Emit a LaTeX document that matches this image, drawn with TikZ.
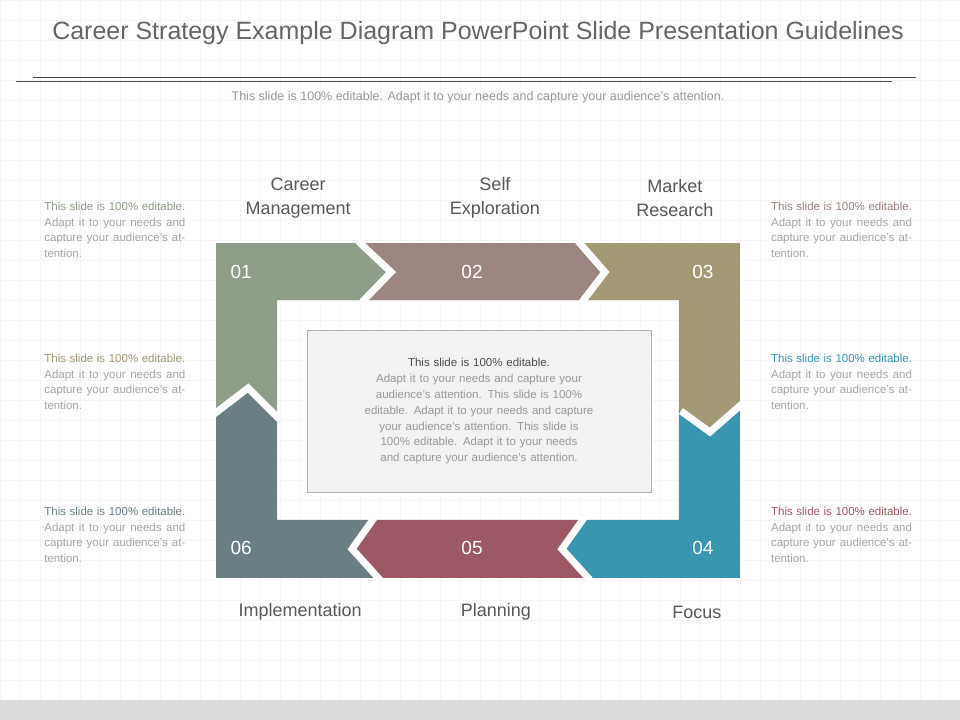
\documentclass[tikz,border=0pt]{standalone}
\usepackage{fontspec}
\setmainfont{Liberation Sans}
\begin{document}
\begin{tikzpicture}[x=1pt,y=-1pt,
  num/.style={text=white,font=\fontsize{19}{19}\selectfont,anchor=center},
  lbl/.style={text=black!65,font=\fontsize{18}{24}\selectfont,align=center},
  side/.style={text=black!35,font=\fontsize{11.5}{15.5}\selectfont,text width=141pt,align=justify,anchor=north west,inner sep=0pt},
  joint/.style={white,line width=7pt,miter limit=20}]
\definecolor{cA}{HTML}{8E9E88}\definecolor{cB}{HTML}{9A8580}\definecolor{cC}{HTML}{A39A75}
\definecolor{cD}{HTML}{3A95B0}\definecolor{cE}{HTML}{9C5865}\definecolor{cF}{HTML}{6A7E84}
\fill[white] (0,0) rectangle (960,720);
\foreach \i in {0,20,...,960} \draw[black!4] (\i,0) -- (\i,700);
\foreach \j in {0,20,...,700} \draw[black!4] (0,\j) -- (960,\j);
\fill[black!14] (0,700) rectangle (960,720);
\node[text=black!60,font=\fontsize{25}{25}\selectfont] (title) at (478,33) {Career Strategy Example Diagram PowerPoint Slide Presentation Guidelines};
\draw[black!70] (33,77) -- (916,77);
\draw[black!70] (16,81) -- (892,81);
\node[text=black!40,font=\fontsize{12.5}{12.5}\selectfont] (sub) at (478,97) {This slide is 100\% editable. Adapt it to your needs and capture your audience's attention.};
% pieces
\fill[cA] (216,243)--(358,243)--(391,272)--(362,300)--(277,300)--(277,418)--(248,388)--(216,413)--cycle;
\fill[cB] (358,243)--(578,243)--(605,272)--(582,300)--(362,300)--(391,272)--cycle;
\fill[cC] (578,243)--(740,243)--(740,405)--(710,432)--(679,410)--(679,300)--(582,300)--(605,272)--cycle;
\fill[cD] (740,405)--(740,578)--(590,578)--(562,549)--(584,520)--(679,520)--(679,410)--(710,432)--cycle;
\fill[cE] (590,578)--(380,578)--(352,549)--(374,520)--(584,520)--(562,549)--cycle;
\fill[cF] (380,578)--(216,578)--(216,413)--(248,388)--(277,418)--(277,520)--(374,520)--(352,549)--cycle;
\draw[joint] (358,241)--(391,272)--(362,302);
\draw[joint] (578,241)--(605,272)--(582,302);
\draw[joint] (681,411)--(710,432)--(742,404);
\draw[joint] (584,518)--(562,549)--(590,580);
\draw[joint] (374,518)--(352,549)--(380,580);
\draw[joint] (214,414)--(248,388)--(279,419);
\node[num] (n1) at (241,272) {01};
\node[num] (n2) at (472,272) {02};
\node[num] (n3) at (703,272) {03};
\node[num] (n6) at (241,548) {06};
\node[num] (n5) at (472,548) {05};
\node[num] (n4) at (703,548) {04};
\node[draw=black!30,fill=black!5,minimum width=344pt,minimum height=162pt] (box) at (479,411) {};
\node[align=center,text width=240pt,font=\fontsize{11.5}{16}\selectfont,text=black!40] (boxt) at (479,411)
 {\textcolor{black!70}{This slide is 100\% editable.}\\ Adapt it to your needs and capture your audience's attention. This slide is 100\% editable. Adapt it to your needs and capture your audience's attention. This slide is 100\% editable. Adapt it to your needs and capture your audience's attention.};
\node[lbl] (l1) at (298,198) {Career\\Management};
\node[lbl] (l2) at (495,198) {Self\\Exploration};
\node[lbl] (l3) at (675,198) {Market\\Research};
\node[lbl] (l6) at (300,612) {Implementation};
\node[lbl] (l5) at (496,612) {Planning};
\node[lbl] (l4) at (697,612) {Focus};
\node[side] (s1) at (44,202) {\textcolor{cA}{This slide is 100\% editable.} Adapt it to your needs and capture your audience's attention.};
\node[side] (s2) at (44,354) {\textcolor{cC}{This slide is 100\% editable.} Adapt it to your needs and capture your audience's attention.};
\node[side] (s3) at (44,507) {\textcolor{cF}{This slide is 100\% editable.} Adapt it to your needs and capture your audience's attention.};
\node[side] (s4) at (771,202) {\textcolor{cB}{This slide is 100\% editable.} Adapt it to your needs and capture your audience's attention.};
\node[side] (s5) at (771,354) {\textcolor{cD}{This slide is 100\% editable.} Adapt it to your needs and capture your audience's attention.};
\node[side] (s6) at (771,507) {\textcolor{cE}{This slide is 100\% editable.} Adapt it to your needs and capture your audience's attention.};
\end{tikzpicture}
\end{document}
